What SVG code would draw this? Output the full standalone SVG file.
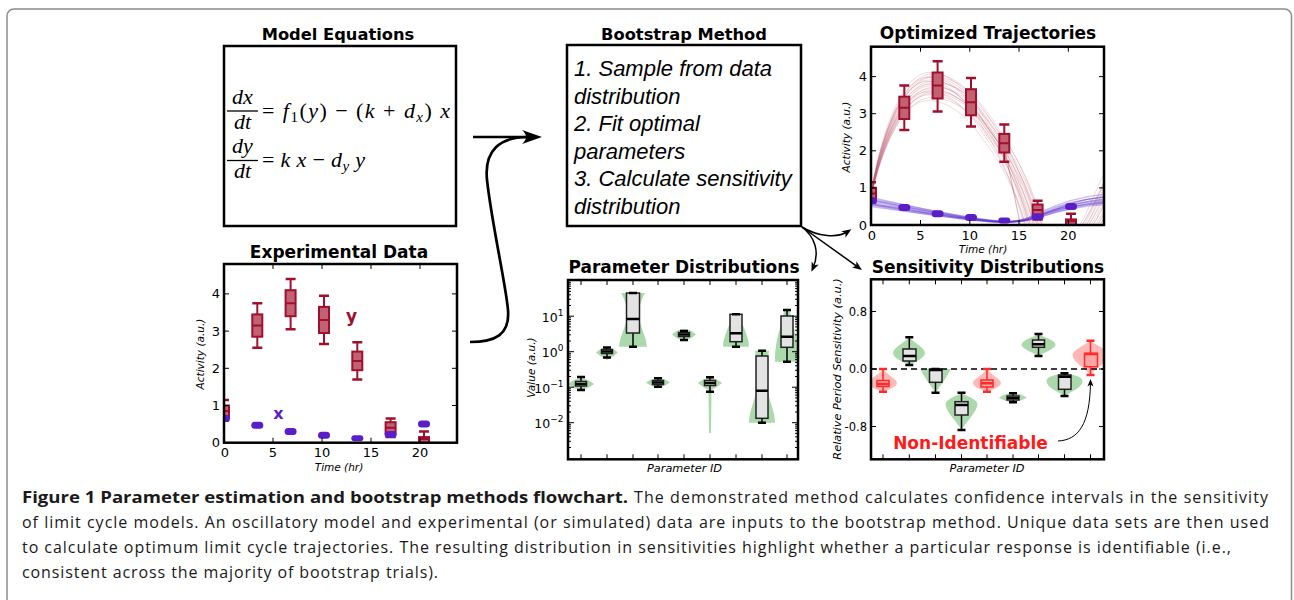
<svg xmlns="http://www.w3.org/2000/svg" xmlns:xlink="http://www.w3.org/1999/xlink" width="1294" height="600" viewBox="0 0 1294 600">
<style>
.ttl{font-family:"DejaVu Sans",sans-serif;font-weight:bold;font-size:17px;text-anchor:middle;fill:#000}
.ttl2{font-family:"DejaVu Sans",sans-serif;font-weight:bold;font-size:16.3px;text-anchor:middle;fill:#000}
.tk{font-family:"DejaVu Sans",sans-serif;font-size:13px;fill:#000}
.tks{font-family:"DejaVu Sans",sans-serif;font-size:12.5px;fill:#000}
.tss{font-family:"DejaVu Sans",sans-serif;font-size:11.5px;fill:#000}
.e{text-anchor:end}
.m{text-anchor:middle}
.al{font-family:"DejaVu Sans",sans-serif;font-style:italic;font-size:10.5px;text-anchor:middle;fill:#000}
.al2{font-family:"DejaVu Sans",sans-serif;font-style:italic;font-size:11.3px;text-anchor:middle;fill:#000}
.ax{fill:none;stroke:#000;stroke-width:2.5}
.tick{fill:none;stroke:#000;stroke-width:1}
.rb{fill:#c06272;stroke:#a0102e;stroke-width:2}
.rl{fill:none;stroke:#a0102e;stroke-width:2}
.rc{fill:none;stroke:#a0102e;stroke-width:2.5}
.pd{fill:#5a1ec8}
.rt{fill:none;stroke:#b24458;stroke-width:1;stroke-opacity:.2;vector-effect:non-scaling-stroke}
.pt{fill:none;stroke:#5a2ad0;stroke-width:1.2;stroke-opacity:.32;vector-effect:non-scaling-stroke}
.vg{fill:#acd9ac}
.vr{fill:#ffb8b8}
.gb{fill:#e3e3e3;stroke:#222;stroke-width:1.5}
.gl{fill:none;stroke:#000;stroke-width:1.5}
.gc{fill:none;stroke:#000;stroke-width:2.5}
.xb{fill:#ffa6a6;stroke:#ff2a2a;stroke-width:1.5}
.xl{fill:none;stroke:#ff2a2a;stroke-width:1.5}
.xc{fill:none;stroke:#ff2a2a;stroke-width:2.5}
.eq{font-family:"Liberation Serif","Times New Roman",serif;font-size:22px;fill:#000}
.it{font-style:italic}
.bt{font-family:"Liberation Sans",Arial,sans-serif;font-style:italic;font-size:22px;fill:#000}
.cap{font-family:"Open Sans",sans-serif;font-size:16px;fill:#1a1a1a}
.capb{font-family:"Open Sans",sans-serif;font-size:16.6px;font-weight:bold;fill:#1a1a1a}
.arw{fill:none;stroke:#000;stroke-width:2.7}
.ars{fill:none;stroke:#000;stroke-width:1.5}
.arn{fill:none;stroke:#000;stroke-width:1}
</style>
<defs>
<marker id="bigHead" viewBox="-22 -9 24 18" refX="-10" refY="0" markerWidth="24" markerHeight="18" markerUnits="userSpaceOnUse" orient="auto"><path d="M0,0 L-20,-7 Q-12,0 -20,7Z" fill="#000"/></marker>
<marker id="smHead" viewBox="-11 -5 12 10" refX="-4" refY="0" markerWidth="12" markerHeight="10" markerUnits="userSpaceOnUse" orient="auto"><path d="M0,0 L-9.5,-3.8 L-7,0 L-9.5,3.8Z" fill="#000"/></marker>
<marker id="tinyHead" viewBox="-9 -4 10 8" refX="-3" refY="0" markerWidth="10" markerHeight="8" markerUnits="userSpaceOnUse" orient="auto"><path d="M0,0 L-7.5,-3 L-5.5,0 L-7.5,3Z" fill="#000"/></marker>
<clipPath id="cE"><rect x="224" y="264" width="233" height="178.7"/></clipPath>
<clipPath id="cO"><rect x="871" y="46.7" width="233" height="178.3"/></clipPath>
<clipPath id="cP"><rect x="568" y="280" width="230" height="179.3"/></clipPath>
<clipPath id="cS"><rect x="871" y="279.3" width="233" height="180"/></clipPath>
<g id="ydata">
<path class="rl" d="M0,-42.8V-37.2M0,-26V-22.3M33.3,-139.5V-128.3M33.3,-106V-94.9M66.6,-163.7V-152.5M66.6,-126.5V-113.5M100,-146.9V-135.8M100,-109.7V-98.6M133.3,-100.4V-91.1M133.3,-72.5V-63.2M166.6,-24.2V-20.5M166.6,-9.3V-5.6M200,-11.2V-5.6"/>
<path class="rc" d="M-5,-42.8h10M-5,-22.3h10M28.3,-139.5h10M28.3,-94.9h10M61.6,-163.7h10M61.6,-113.5h10M95,-146.9h10M95,-98.6h10M128.3,-100.4h10M128.3,-63.2h10M161.6,-24.2h10M161.6,-5.6h10M195,-11.2h10"/>
<rect class="rb" x="-5" y="-37.2" width="10" height="11.2"/>
<rect class="rb" x="28.3" y="-128.3" width="10" height="22.3"/>
<rect class="rb" x="61.6" y="-152.5" width="10" height="26"/>
<rect class="rb" x="95" y="-135.8" width="10" height="26.1"/>
<rect class="rb" x="128.3" y="-91.1" width="10" height="18.6"/>
<rect class="rb" x="161.6" y="-20.5" width="10" height="11.2"/>
<rect class="rb" x="195" y="-5.6" width="10" height="8"/>
<path class="rl" d="M-5,-31.6h10M28.3,-117.2h10M61.6,-139.5h10M95,-122.8h10M128.3,-81.8h10M161.6,-14.9h10M195,-3.7h10"/>
</g>
<g id="xdata">
<rect class="pd" x="-6" y="-27.7" width="12" height="7" rx="3.5"/>
<rect class="pd" x="27.3" y="-21" width="12" height="7" rx="3.5"/>
<rect class="pd" x="60.6" y="-14.7" width="12" height="7" rx="3.5"/>
<rect class="pd" x="94" y="-10.9" width="12" height="7" rx="3.5"/>
<rect class="pd" x="127.3" y="-7.5" width="12" height="6" rx="3"/>
<rect class="pd" x="160.6" y="-11.7" width="12" height="7" rx="3.5"/>
<rect class="pd" x="194" y="-22.1" width="12" height="7" rx="3.5"/>
</g>
<path id="rtraj" class="rt" d="M871,195 C878,150 900,78 930,77 C955,76 975,100 990,125 C1008,150 1025,190 1033,223 C1045,248 1075,252 1090,230 C1098,218 1106,200 1117,175"/>
<path id="ptraj" class="pt" d="M871,202 C900,207 950,217 990,221 C1010,223 1025,222 1040,215 C1060,207 1085,200 1115,199"/>
<path id="minL" class="tick" d="M568,447.5h3M568,441.3h3M568,436.8h3M568,433.4h3M568,430.6h3M568,428.2h3M568,426.1h3M568,424.3h3M568,412h3M568,405.8h3M568,401.3h3M568,397.9h3M568,395.1h3M568,392.7h3M568,390.6h3M568,388.8h3M568,376.5h3M568,370.3h3M568,365.8h3M568,362.4h3M568,359.6h3M568,357.2h3M568,355.1h3M568,353.3h3M568,341h3M568,334.8h3M568,330.3h3M568,326.9h3M568,324.1h3M568,321.7h3M568,319.6h3M568,317.8h3M568,305.5h3M568,299.3h3M568,294.8h3M568,291.4h3M568,288.6h3M568,286.2h3M568,284.1h3M568,282.3h3M568,422.7h6M568,387.2h6M568,351.7h6M568,316.2h6"/>
</defs>

<rect id="frame" x="7" y="9" width="1284.5" height="640" rx="7" fill="none" stroke="#8c8c8c" stroke-width="1.5"/>

<g id="model-equations">
<text class="ttl2" x="338" y="40">Model Equations</text>
<rect x="224" y="46" width="232" height="180" fill="#fff" stroke="#000" stroke-width="2.5"/>
<text class="eq it" x="242.5" y="104" text-anchor="middle">dx</text>
<path d="M227,111H258" stroke="#000" stroke-width="1.3"/>
<text class="eq it" x="242.5" y="129" text-anchor="middle">dt</text>
<text class="eq" x="262" y="118" textLength="188" lengthAdjust="spacing">= <tspan class="it">f</tspan><tspan font-size="15" dy="4">1</tspan><tspan dy="-4">(</tspan><tspan class="it">y</tspan>) − (<tspan class="it">k</tspan> + <tspan class="it">d</tspan><tspan class="it" font-size="15" dy="4">x</tspan><tspan dy="-4">)</tspan> <tspan class="it">x</tspan></text>
<text class="eq it" x="242.5" y="153" text-anchor="middle">dy</text>
<path d="M227,160.5H258" stroke="#000" stroke-width="1.3"/>
<text class="eq it" x="242.5" y="178" text-anchor="middle">dt</text>
<text class="eq" x="262" y="167" textLength="103" lengthAdjust="spacing">= <tspan class="it">k x</tspan> − <tspan class="it">d</tspan><tspan class="it" font-size="15" dy="4">y</tspan><tspan class="it" dy="-4"> y</tspan></text>
</g>

<g id="bootstrap-method">
<text class="ttl2" x="684" y="40">Bootstrap Method</text>
<rect x="567" y="45" width="234" height="181" fill="#fff" stroke="#000" stroke-width="2.5"/>
<text class="bt" x="574" y="76">1. Sample from data</text>
<text class="bt" x="574" y="103.5">distribution</text>
<text class="bt" x="574" y="131">2. Fit optimal</text>
<text class="bt" x="574" y="158.5">parameters</text>
<text class="bt" x="574" y="186">3. Calculate sensitivity</text>
<text class="bt" x="574" y="213.5">distribution</text>
</g>

<g id="experimental-data">
<text class="ttl" x="339" y="258">Experimental Data</text>
<g clip-path="url(#cE)">
<use xlink:href="#ydata" href="#ydata" transform="translate(224,442.7)"/>
<use xlink:href="#xdata" href="#xdata" transform="translate(224,442.7)"/>
</g>
<rect class="ax" x="224" y="264" width="233" height="178.7"/>
<path class="tick" d="M224,405.5h5M224,368.3h5M224,331.1h5M224,293.9h5M457,405.5h-5M457,368.3h-5M457,331.1h-5M457,293.9h-5M273,442.7v-5M322,442.7v-5M371,442.7v-5M420,442.7v-5M273,264v5M322,264v5M371,264v5M420,264v5"/>
<text class="tk e" x="220" y="447.2">0</text>
<text class="tk e" x="220" y="410">1</text>
<text class="tk e" x="220" y="372.8">2</text>
<text class="tk e" x="220" y="335.6">3</text>
<text class="tk e" x="220" y="298.4">4</text>
<text class="tk m" x="225" y="456.5">0</text>
<text class="tk m" x="273" y="456.5">5</text>
<text class="tk m" x="322" y="456.5">10</text>
<text class="tk m" x="371" y="456.5">15</text>
<text class="tk m" x="420" y="456.5">20</text>
<text class="al" x="339" y="470.5">Time (hr)</text>
<text class="al" transform="translate(204,354) rotate(-90)">Activity (a.u.)</text>
<text x="351.5" y="322" font-family="DejaVu Sans,sans-serif" font-weight="bold" font-size="17" fill="#a0102e" text-anchor="middle">y</text>
<text x="278.5" y="419" font-family="DejaVu Sans,sans-serif" font-weight="bold" font-size="16" fill="#5a1ec8" text-anchor="middle">x</text>
</g>

<g id="optimized-trajectories">
<text class="ttl" x="988" y="39">Optimized Trajectories</text>
<g clip-path="url(#cO)">
<use xlink:href="#rtraj" href="#rtraj"/>
<use xlink:href="#rtraj" href="#rtraj" transform="matrix(0.97,0,0,0.95,26.13,11.25)"/>
<use xlink:href="#rtraj" href="#rtraj" transform="matrix(1.03,0,0,0.97,-26.13,6.75)"/>
<use xlink:href="#rtraj" href="#rtraj" transform="matrix(0.95,0,0,0.9,43.55,22.5)"/>
<use xlink:href="#rtraj" href="#rtraj" transform="matrix(1.05,0,0,0.93,-43.55,15.75)"/>
<use xlink:href="#rtraj" href="#rtraj" transform="matrix(0.98,0,0,0.88,17.42,27)"/>
<use xlink:href="#rtraj" href="#rtraj" transform="matrix(1.02,0,0,1.02,-17.42,-4.5)"/>
<use xlink:href="#rtraj" href="#rtraj" transform="matrix(0.96,0,0,1,34.84,0)"/>
<use xlink:href="#rtraj" href="#rtraj" transform="matrix(1.04,0,0,0.9,-34.84,22.5)"/>
<use xlink:href="#rtraj" href="#rtraj" transform="matrix(0.99,0,0,0.92,8.71,18)"/>
<use xlink:href="#rtraj" href="#rtraj" transform="matrix(1.01,0,0,0.86,-8.71,31.5)"/>
<use xlink:href="#rtraj" href="#rtraj" transform="matrix(0.94,0,0,0.97,52.26,6.75)"/>
<use xlink:href="#rtraj" href="#rtraj" transform="matrix(1.06,0,0,0.96,-52.26,9)"/>
<use xlink:href="#rtraj" href="#rtraj" transform="matrix(0.97,0,0,1.03,26.13,-6.75)"/>
<use xlink:href="#rtraj" href="#rtraj" transform="matrix(1.03,0,0,0.89,-26.13,24.75)"/>
<use xlink:href="#rtraj" href="#rtraj" transform="matrix(1,0,0,0.94,0,13.5)"/>
<use xlink:href="#rtraj" href="#rtraj" transform="matrix(0.95,0,0,0.84,43.55,36)"/>
<use xlink:href="#rtraj" href="#rtraj" transform="matrix(1.05,0,0,1,-43.55,0)"/>
<use xlink:href="#rtraj" href="#rtraj" transform="matrix(0.98,0,0,0.98,17.42,4.5)"/>
<use xlink:href="#rtraj" href="#rtraj" transform="matrix(1.02,0,0,0.91,-17.42,20.25)"/>
<path d="M1005,150 L1021,228" fill="none" stroke="#b24458" stroke-opacity=".45" stroke-width="1"/>
<use xlink:href="#ptraj" href="#ptraj"/>
<use xlink:href="#ptraj" href="#ptraj" transform="matrix(1,0,0,0.9,0,22.5)"/>
<use xlink:href="#ptraj" href="#ptraj" transform="matrix(1,0,0,1.1,0,-22.5)"/>
<use xlink:href="#ptraj" href="#ptraj" transform="matrix(0.98,0,0,0.95,17.42,11.25)"/>
<use xlink:href="#ptraj" href="#ptraj" transform="matrix(1.02,0,0,1.05,-17.42,-11.25)"/>
<use xlink:href="#ptraj" href="#ptraj" transform="matrix(0.97,0,0,0.85,26.13,33.75)"/>
<use xlink:href="#ptraj" href="#ptraj" transform="matrix(1.03,0,0,1.15,-26.13,-33.75)"/>
<use xlink:href="#ptraj" href="#ptraj" transform="matrix(1,0,0,0.8,0,45)"/>
<use xlink:href="#ptraj" href="#ptraj" transform="matrix(0.99,0,0,1.2,8.71,-45)"/>
<use xlink:href="#ptraj" href="#ptraj" transform="matrix(1.01,0,0,0.93,-8.71,15.75)"/>
<use xlink:href="#ptraj" href="#ptraj" transform="matrix(0.98,0,0,1.08,17.42,-18)"/>
<use xlink:href="#ptraj" href="#ptraj" transform="matrix(1.02,0,0,0.88,-17.42,27)"/>
<use xlink:href="#ydata" href="#ydata" transform="translate(871,225)"/>
<use xlink:href="#xdata" href="#xdata" transform="translate(871,225)"/>
</g>
<rect class="ax" x="871" y="46.7" width="233" height="178.3"/>
<path class="tick" d="M871,187.9h5M871,150.8h5M871,113.7h5M871,76.6h5M1104,187.9h-5M1104,150.8h-5M1104,113.7h-5M1104,76.6h-5M920.5,225v-5M969.8,225v-5M1019,225v-5M1068.3,225v-5M920.5,46.7v5M969.8,46.7v5M1019,46.7v5M1068.3,46.7v5"/>
<text class="tk e" x="867" y="229.5">0</text>
<text class="tk e" x="867" y="192.4">1</text>
<text class="tk e" x="867" y="155.3">2</text>
<text class="tk e" x="867" y="118.2">3</text>
<text class="tk e" x="867" y="81.1">4</text>
<text class="tk m" x="872" y="240">0</text>
<text class="tk m" x="920.5" y="240">5</text>
<text class="tk m" x="969.8" y="240">10</text>
<text class="tk m" x="1019" y="240">15</text>
<text class="tk m" x="1068.3" y="240">20</text>
<text class="al" x="983" y="252.5">Time (hr)</text>
<text class="al" transform="translate(849.5,137) rotate(-90)">Activity (a.u.)</text>
</g>

<g id="parameter-distributions">
<text class="ttl" x="684" y="273">Parameter Distributions</text>
<g clip-path="url(#cP)">
<path class="vg" d="M568,384 Q574,379 581,378 Q588,379 594,384 Q588,389 581,389.5 Q574,389 568,384Z"/>
<path class="vg" d="M596,352.5 Q601,348 607,347 Q613,348 618,352.5 Q613,357 607,360 Q601,357 596,352.5Z"/>
<path class="vg" d="M621,293 L645,293 C641,300 639,306 639,315 C639,325 646,335 647,346.7 L619,346.7 C620,335 627,325 627,315 C627,306 625,300 621,293Z"/>
<path class="vg" d="M646,382.5 Q652,378 658,378 Q664,378 670,382.5 Q664,387 658,387 Q652,387 646,382.5Z"/>
<path class="vg" d="M672,334.5 Q678,329 684,329 Q690,329 696,334.5 Q690,340 684,340 Q678,340 672,334.5Z"/>
<path class="vg" d="M698,383 Q704,378 710,377.5 Q716,378 722,383 Q716,388 711.5,390 L711,433 L709,433 L708.5,390 Q704,388 698,383Z"/>
<path class="vg" d="M732,314.3 L740,314.3 C741,325 749,335 749,346.7 L723,346.7 C723,335 731,325 732,314.3Z"/>
<path class="vg" d="M755,350.7 L769,350.7 C768,360 766,370 767,385 C768,400 775,410 775,422.7 L749,422.7 C749,410 756,400 757,385 C758,370 756,360 755,350.7Z"/>
<path class="vg" d="M784,310 L790,310 C791,325 799,335 799,361.7 L775,361.7 C775,335 783,325 784,310Z"/>
<path class="gl" d="M581,377V381.5M581,386V390M607,347.5V349.5M607,353.5V357.5M633,333V346.7M658,378.3V380.5M658,384.5V386.7M684,331V332.5M684,336.5V340M710,377.3V380.5M710,385.5V391.7M736,341.7V346.7M762,350.7V356M762,418.3V422.7M787,310V316M787,347.3V361.7"/>
<rect class="gb" x="575.5" y="381.5" width="11" height="4.5"/>
<rect class="gb" x="601.5" y="349.5" width="11" height="4"/>
<rect class="gb" x="626.5" y="293" width="13" height="40"/>
<rect class="gb" x="652.5" y="380.5" width="11" height="4"/>
<rect class="gb" x="678.5" y="332.5" width="11" height="4"/>
<rect class="gb" x="704.5" y="380.5" width="11" height="5"/>
<rect class="gb" x="730" y="314.3" width="12" height="27.4"/>
<rect class="gb" x="756" y="356" width="12" height="62.3"/>
<rect class="gb" x="781" y="316" width="12" height="31.3"/>
<path class="gc" d="M577,377h8M577,390h8M603,347.5h8M603,357.5h8M629,293h8M629,346.7h8M654,378.3h8M654,386.7h8M680,331h8M680,340h8M706,377.3h8M706,391.7h8M732,314.3h8M732,346.7h8M758,350.7h8M758,422.7h8M783,310h8M783,361.7h8"/>
<path class="gc" d="M575.5,384h11M601.5,351.5h11M626.5,319h13M652.5,382.5h11M678.5,334.5h11M704.5,383h11M730,333.3h12M756,390.7h12M781,336.7h12"/>
</g>
<rect class="ax" x="568" y="280" width="230" height="179.3"/>
<use xlink:href="#minL" href="#minL"/>
<use xlink:href="#minL" href="#minL" transform="matrix(-1,0,0,1,1366,0)"/>
<path class="tick" d="M581,459.3v-5M607,459.3v-5M633,459.3v-5M658,459.3v-5M684,459.3v-5M710,459.3v-5M736,459.3v-5M762,459.3v-5M787,459.3v-5M581,280v5M607,280v5M633,280v5M658,280v5M684,280v5M710,280v5M736,280v5M762,280v5M787,280v5"/>
<text class="tks e" x="563.5" y="321.7">10<tspan dy="-6" font-size="9">1</tspan></text>
<text class="tks e" x="563.5" y="357.2">10<tspan dy="-6" font-size="9">0</tspan></text>
<text class="tks e" x="563.5" y="392.7">10<tspan dy="-6" font-size="9">−1</tspan></text>
<text class="tks e" x="563.5" y="428.2">10<tspan dy="-6" font-size="9">−2</tspan></text>
<text class="al2" x="684.5" y="471.5">Parameter ID</text>
<text class="al" transform="translate(535,367.5) rotate(-90)">Value (a.u.)</text>
</g>

<g id="sensitivity-distributions">
<text class="ttl" x="988" y="273">Sensitivity Distributions</text>
<g clip-path="url(#cS)">
<path class="vr" d="M883,369 C886,374 897,379 897,383 C897,387 888,390 883,392 C878,390 869,387 869,383 C869,379 880,374 883,369Z"/>
<path class="vg" d="M909.3,337 C913,342 925,348 925,353 C925,358 915,362 909.3,365 C903,362 893,358 893,353 C893,348 905,342 909.3,337Z"/>
<path class="vg" d="M920.5,369 L950.5,369 C948,376 940,386 935.5,392.7 C931,386 923,376 920.5,369Z"/>
<path class="vg" d="M961.5,392.7 C966,396 977.5,399 977.5,404 C977.5,411 966,422 961.5,430 C957,422 945.5,411 945.5,404 C945.5,399 957,396 961.5,392.7Z"/>
<path class="vr" d="M987,369 C990,374 1001,379 1001,383 C1001,387 992,390 987,392 C982,390 973,387 973,383 C973,379 984,374 987,369Z"/>
<path class="vg" d="M999,397.5 Q1006,393 1013,393 Q1020,393 1027,397.5 Q1020,402 1013,402 Q1006,402 999,397.5Z"/>
<path class="vg" d="M1038.5,334 C1043,337 1055.5,340 1055.5,344.5 C1055.5,349 1043,353 1038.5,356 C1034,353 1021.5,349 1021.5,344.5 C1021.5,340 1034,337 1038.5,334Z"/>
<path class="vg" d="M1064.5,373 C1070,374 1082.5,376 1082.5,381 C1082.5,388 1070,392 1064.5,396 C1059,392 1046.5,388 1046.5,381 C1046.5,376 1059,374 1064.5,373Z"/>
<path class="vr" d="M1090.5,340.7 C1096,345 1108.5,350 1108.5,355 C1108.5,362 1096,368 1090.5,375 C1085,368 1072.5,362 1072.5,355 C1072.5,350 1085,345 1090.5,340.7Z"/>
<path d="M871,369H1104" fill="none" stroke="#000" stroke-width="1.5" stroke-dasharray="6,4"/>
<path class="gl" d="M909.3,337.3V349M909.3,361V365M935.5,382.3V392.7M961.5,392.7V401.7M961.5,415V430M1013,393.3V396M1013,400V402.3M1038.5,334V340M1038.5,347.3V356M1064.5,373.3V375M1064.5,389.3V396"/>
<path class="xl" d="M883,369V380.5M883,386.5V391.7M987,369V380M987,387V391.7M1090.5,340.7V353.3M1090.5,366.7V375"/>
<rect class="gb" x="903" y="349" width="13" height="12"/>
<rect class="gb" x="929.5" y="369" width="12.5" height="13.3"/>
<rect class="gb" x="955" y="401.7" width="13" height="13.3"/>
<rect class="gb" x="1007" y="396" width="12" height="4"/>
<rect class="gb" x="1032.5" y="340" width="12" height="7.3"/>
<rect class="gb" x="1058.5" y="375" width="12.5" height="14.3"/>
<rect class="xb" x="877" y="380.5" width="12" height="6"/>
<rect class="xb" x="981" y="380" width="12" height="7"/>
<rect class="xb" x="1084.5" y="353.3" width="13" height="13.4"/>
<path class="gc" d="M905.3,337.3h8M905.3,365h8M931.5,369h8M931.5,392.7h8M957.5,392.7h8M957.5,430h8M1009,393.3h8M1009,402.3h8M1034.5,334h8M1034.5,356h8M1060.5,373.3h8M1060.5,396h8"/>
<path class="gc" d="M903,356h13M929.5,370h12.5M955,405h13M1007,398h12M1032.5,344.3h12M1058.5,376.7h12.5"/>
<path class="xc" d="M879,369h8M879,391.7h8M983,369h8M983,391.7h8M1086.5,340.7h8M1086.5,375h8M877,384h12M981,383.3h12M1084.5,354h13"/>
</g>
<rect class="ax" x="871" y="279.3" width="233" height="180"/>
<path class="tick" d="M871,311.5h5M871,369h5M871,426.5h5M1104,311.5h-5M1104,369h-5M1104,426.5h-5M883,459.3v-5M909.3,459.3v-5M935.5,459.3v-5M961.5,459.3v-5M987,459.3v-5M1013,459.3v-5M1038.5,459.3v-5M1064.5,459.3v-5M1090.5,459.3v-5M883,279.3v5M909.3,279.3v5M935.5,279.3v5M961.5,279.3v5M987,279.3v5M1013,279.3v5M1038.5,279.3v5M1064.5,279.3v5M1090.5,279.3v5"/>
<text class="tss e" x="867" y="315.5">0.8</text>
<text class="tss e" x="867" y="373">0.0</text>
<text class="tss e" x="867" y="430.5">-0.8</text>
<text class="al2" x="987" y="471.5">Parameter ID</text>
<text class="al2" transform="translate(841,369) rotate(-90)">Relative Period Sensitivity (a.u.)</text>
<text x="970.5" y="449" font-family="DejaVu Sans,sans-serif" font-weight="bold" font-size="17" fill="#ff1a1a" text-anchor="middle">Non-Identifiable</text>
</g>

<g id="connectors">
<path class="arw" d="M473,137 L532,137" marker-end="url(#bigHead)"/>
<path class="arw" d="M470,342 C495,342 510,335 508,310 C506,285 492,225 487,180 C484,150 500,137 528,137"/>
<path class="ars" d="M802,227 C818,237 838,238 848,231.5" marker-end="url(#smHead)"/>
<path class="ars" d="M802,227 C815,237 820,252 813,268" marker-end="url(#smHead)"/>
<path class="ars" d="M802,227 L858.7,267.6" marker-end="url(#smHead)"/>
<path class="arn" d="M1058,441 C1078,440 1090,425 1090.5,382" marker-end="url(#tinyHead)"/>
</g>

<g id="caption">
<text class="capb" x="22" y="503" textLength="606" lengthAdjust="spacingAndGlyphs">Figure 1 Parameter estimation and bootstrap methods flowchart.</text>
<text class="cap" x="634" y="503" textLength="634" lengthAdjust="spacing">The demonstrated method calculates confidence intervals in the sensitivity</text>
<text class="cap" x="22" y="528" textLength="1247" lengthAdjust="spacing">of limit cycle models. An oscillatory model and experimental (or simulated) data are inputs to the bootstrap method. Unique data sets are then used</text>
<text class="cap" x="22" y="553" textLength="1209" lengthAdjust="spacing">to calculate optimum limit cycle trajectories. The resulting distribution in sensitivities highlight whether a particular response is identifiable (i.e.,</text>
<text class="cap" x="22" y="577.5" textLength="416" lengthAdjust="spacing">consistent across the majority of bootstrap trials).</text>
</g>
</svg>
